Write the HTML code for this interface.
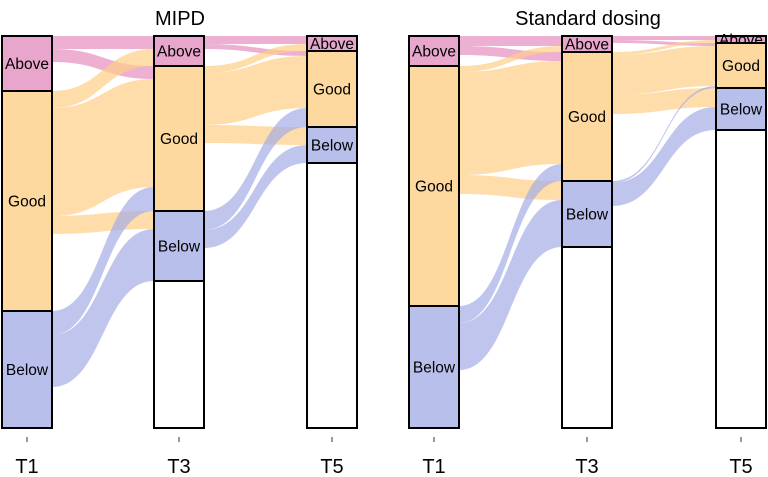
<!DOCTYPE html>
<html><head><meta charset="utf-8"><style>
body{margin:0;background:#fff;}
svg{display:block;font-family:"Liberation Sans",sans-serif;}
</style></head><body>
<svg id="chart" width="768" height="477" viewBox="0 0 768 477"></svg>
<script>
const times = ["T1","T3","T5"];
const states = ["Above","Good","Below","Missing"];
const panelTitles = ["MIPD","Standard dosing"];
// flows: [fromState, toState, count] for T1->T3 and T3->T5
const mipdT1T3 = [["Above","Above",13],["Above","Good",13],["Above","Missing",29],
 ["Good","Above",17],["Good","Good",108],["Good","Below",18],["Good","Missing",77],
 ["Below","Good",24],["Below","Below",52],["Below","Missing",41]];
const mipdT3T5 = [["Above","Above",8],["Above","Good",5],["Above","Missing",17],
 ["Good","Above",7],["Good","Good",52],["Good","Below",18],["Good","Missing",68],
 ["Below","Good",19],["Below","Below",18],["Below","Missing",33],["Missing","Missing",147]];
const stdT1T3 = [["Above","Above",10],["Above","Good",9],["Above","Missing",11],
 ["Good","Above",6],["Good","Good",103],["Good","Below",19],["Good","Missing",112],
 ["Below","Good",17],["Below","Below",47],["Below","Missing",58]];
const stdT3T5 = [["Above","Above",4],["Above","Good",3],["Above","Missing",9],
 ["Good","Above",3],["Good","Good",40],["Good","Below",19],["Good","Missing",67],
 ["Below","Good",2],["Below","Below",23],["Below","Missing",41],["Missing","Missing",181]];

const svg=document.getElementById('chart');
const NS='http://www.w3.org/2000/svg';
const fillS={Above:"#e9a6cc",Good:"#fdd99f",Below:"#b9bfeb",Missing:"#ffffff"};
const flowC={Above:"#e78fbf",Good:"#fdcf86",Below:"#a5ade6",Missing:"none"};
function mk(tag,attrs,parent){const e=document.createElementNS(NS,tag);for(const k in attrs)e.setAttribute(k,attrs[k]);(parent||svg).appendChild(e);return e;}
const Y0=36,Y1=428;
const panels=[{xs:[2,154,307],flows:[mipdT1T3,mipdT3T5],title:panelTitles[0],tx:180,name:"mipd"},
 {xs:[409,562,716],flows:[stdT1T3,stdT3T5],title:panelTitles[1],tx:588,name:"standard"}];
const W=50;
function strataTotals(flows,side){const t={};states.forEach(s=>t[s]=0);flows.forEach(f=>{t[side==0?f[0]:f[1]]+=f[2];});return t;}
panels.forEach((p,pi)=>{
  const g=mk('g',{});
  
  
  const axTotals=[strataTotals(p.flows[0],0),strataTotals(p.flows[0],1),strataTotals(p.flows[1],1)];
  const axes=axTotals.map(t=>{const tot=states.reduce((a,s)=>a+t[s],0);const sc=(Y1-Y0)/tot;let y=Y0;const pos={};states.forEach(s=>{pos[s]=[y,y+t[s]*sc];y+=t[s]*sc;});return {pos,sc};});
  p.flows.forEach((fl,fi)=>{
    const a=axes[fi],b=axes[fi+1];
    const outOff={},inOff={};states.forEach(s=>{outOff[s]=a.pos[s][0];inOff[s]=b.pos[s][0];});
    const sorted=fl.slice().sort((u,v)=>states.indexOf(u[0])-states.indexOf(v[0])||states.indexOf(u[1])-states.indexOf(v[1]));
    const yin={};
    const byDest=fl.slice().sort((u,v)=>states.indexOf(u[1])-states.indexOf(v[1])||states.indexOf(u[0])-states.indexOf(v[0]));
    byDest.forEach(f=>{const h=f[2]*b.sc;yin[f[0]+f[1]]=[inOff[f[1]],inOff[f[1]]+h];inOff[f[1]]+=h;});
    sorted.forEach(f=>{
      const h=f[2]*a.sc;const y1=outOff[f[0]],y2=y1+h;outOff[f[0]]+=h;
      if(f[0]==="Missing"||f[1]==="Missing")return;
      const [z1,z2]=yin[f[0]+f[1]];
      const x1=p.xs[fi]+W,x2=p.xs[fi+1],xm=(x1+x2)/2;
      const path=mk('path',{d:`M${x1},${y1}C${xm},${y1} ${xm},${z1} ${x2},${z1}L${x2},${z2}C${xm},${z2} ${xm},${y2} ${x1},${y2}Z`,fill:flowC[f[0]],'fill-opacity':0.7},g);
      
      
    });
  });
  axes.forEach((ax,ai)=>{
    states.forEach(s=>{
      const [ya,yb]=ax.pos[s];if(yb-ya<=0)return;
      const r=mk('rect',{x:p.xs[ai],y:ya,width:W,height:yb-ya,fill:fillS[s],stroke:"#000","stroke-width":2},g);
      
      
      if(s!=="Missing"){
        const t=mk('text',{x:p.xs[ai]+W/2,y:(ya+yb)/2+5.5,'text-anchor':'middle','font-size':15.5,fill:"#000"},g);
        t.textContent=s;
        
        
      }
    });
    const tk=mk('line',{x1:p.xs[ai]+W/2,x2:p.xs[ai]+W/2,y1:437,y2:442,stroke:"#333","stroke-width":1},g);
    
    
    const lb=mk('text',{x:p.xs[ai]+W/2,y:473,'text-anchor':'middle','font-size':20,fill:"#000"},g);
    lb.textContent=times[ai];
    
    
  });
  const tt=mk('text',{x:p.tx,y:25,'text-anchor':'middle','font-size':20,fill:"#000"},g);
  tt.textContent=p.title;
  
  
});
</script>
</body></html>
